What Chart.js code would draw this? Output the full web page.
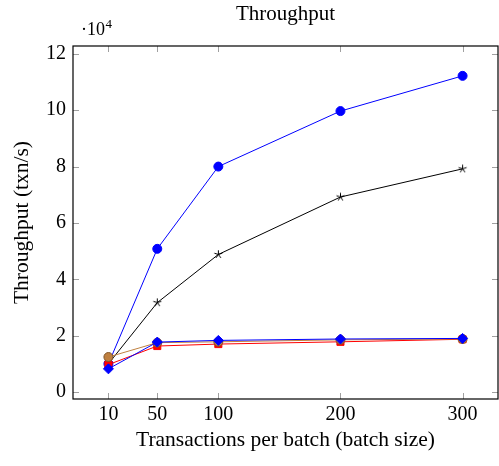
<!DOCTYPE html>
<html><head><meta charset="utf-8">
<script src="https://cdn.jsdelivr.net/npm/chart.js@4.4.0/dist/chart.umd.min.js"></script>
<style>html,body{margin:0;padding:0;background:#fff;overflow:hidden}canvas{display:block}</style>
</head><body><canvas id="c" width="499" height="466"></canvas>
<script>
const batchSizes = [10, 50, 100, 200, 300];
const xTicks = [10, 50, 100, 200, 300];
const yTicks = [0, 2, 4, 6, 8, 10, 12];
const seriesBlueCircle = [1.0, 5.08, 8.0, 9.97, 11.22];
const seriesBlackStar = [1.0, 3.17, 4.88, 6.92, 7.92];
const seriesBlueDiamond = [0.82, 1.77, 1.83, 1.88, 1.9];
const seriesRedSquare = [0.97, 1.63, 1.7, 1.78, 1.87];
const seriesBrownCircle = [1.24, 1.75, 1.78, 1.85, 1.88];
const titleText = 'Throughput';
const xTitle = 'Transactions per batch (batch size)';
const yTitle = 'Throughput (txn/s)';

const pts = a => a.map((v, i) => ({x: batchSizes[i], y: v}));
const serif = '"Liberation Serif", "DejaVu Serif", serif';

// 5-armed asterisk marker like pgfplots "star"
const starImg = (() => {
  const c = document.createElement('canvas');
  c.width = 11; c.height = 11;
  const g = c.getContext('2d');
  g.strokeStyle = '#000'; g.lineWidth = 1;
  g.beginPath();
  for (let k = 0; k < 5; k++) {
    const a = -Math.PI / 2 + k * 2 * Math.PI / 5;
    g.moveTo(5.5, 5.5); g.lineTo(5.5 + 4.2 * Math.cos(a), 5.5 + 4.2 * Math.sin(a));
  }
  g.stroke();
  return c;
})();

const inward = {
  id: 'inward',
  afterDraw(chart) {
    const {ctx, chartArea: a, scales: {x, y}} = chart;
    ctx.save();
    ctx.strokeStyle = '#a0a0a0';
    ctx.lineWidth = 1;
    const L = 6;
    ctx.beginPath();
    xTicks.forEach(t => {
      const px = Math.round(x.getPixelForValue(t)) + 0.5;
      ctx.moveTo(px, a.bottom); ctx.lineTo(px, a.bottom - L);
      ctx.moveTo(px, a.top); ctx.lineTo(px, a.top + L);
    });
    yTicks.forEach(t => {
      const py = Math.round(y.getPixelForValue(t)) + 0.5;
      ctx.moveTo(a.left, py); ctx.lineTo(a.left + L, py);
      ctx.moveTo(a.right, py); ctx.lineTo(a.right - L, py);
    });
    ctx.stroke();
    ctx.strokeStyle = '#000';
    ctx.lineWidth = 1.2;
    ctx.strokeRect(a.left, a.top, a.right - a.left, a.bottom - a.top);
    ctx.fillStyle = '#000';
    ctx.font = '21px ' + serif;
    ctx.textAlign = 'center';
    ctx.textBaseline = 'alphabetic';
    ctx.fillText(titleText, (a.left + a.right) / 2, 20);
    ctx.textAlign = 'left';
    ctx.font = '18px ' + serif;
    const base = '\u00b710';
    ctx.fillText(base, 81, 35);
    const w = ctx.measureText(base).width;
    ctx.font = '13px ' + serif;
    ctx.fillText('4', 81 + w + 0.5, 28);
    ctx.restore();
  }
};

new Chart(document.getElementById('c'), {
  type: 'line',
  data: {
    datasets: [
      {data: pts(seriesBlueCircle), borderColor: '#0000ff', backgroundColor: '#0000ff', pointStyle: 'circle', pointRadius: 4.5, pointBorderWidth: 1, borderWidth: 1, order: 5},
      {data: pts(seriesBlackStar), borderColor: '#000', backgroundColor: '#000', pointStyle: starImg, pointRadius: 4, borderWidth: 1, order: 4},
      {data: pts(seriesRedSquare), borderColor: '#ff0000', backgroundColor: '#ff0000', pointStyle: 'rect', pointRadius: 5, pointBorderWidth: 1, borderWidth: 1, order: 3},
      {data: pts(seriesBrownCircle), borderColor: '#bf8040', backgroundColor: '#bf8040', pointBorderColor: '#80552a', pointStyle: 'circle', pointRadius: 4.5, pointBorderWidth: 1, borderWidth: 1, order: 2},
      {data: pts(seriesBlueDiamond), borderColor: '#0000ff', backgroundColor: '#0000ff', pointStyle: 'rectRot', pointRadius: 5, pointBorderWidth: 1, borderWidth: 1, order: 1}
    ]
  },
  options: {
    responsive: false, animation: false, devicePixelRatio: 1,
    layout: {autoPadding: false, padding: {top: 46, right: 1, left: 0, bottom: 0}},
    plugins: {legend: {display: false}, tooltip: {enabled: false}},
    elements: {line: {tension: 0}},
    scales: {
      x: {
        type: 'linear', min: -19, max: 329,
        afterBuildTicks: s => { s.ticks = xTicks.map(v => ({value: v})); },
        grid: {display: false, drawTicks: false},
        border: {display: false},
        ticks: {color: '#000', font: {family: serif, size: 20}, padding: 4},
        title: {display: true, text: xTitle, color: '#000', font: {family: serif, size: 21.5}, padding: {top: 0, bottom: 13}},
        afterFit: s => { s.height = 67; s.paddingLeft = 0; s.paddingRight = 0; }
      },
      y: {
        min: -0.25, max: 12.28,
        afterBuildTicks: s => { s.ticks = yTicks.map(v => ({value: v})); },
        grid: {display: false, drawTicks: false},
        border: {display: false},
        ticks: {color: '#000', font: {family: serif, size: 20}, padding: 7},
        title: {display: true, text: yTitle, color: '#000', font: {family: serif, size: 21.5}, padding: {top: 9, bottom: 6}},
        afterFit: s => { s.width = 73; s.paddingTop = 0; s.paddingBottom = 0; }
      }
    }
  },
  plugins: [inward]
});
</script>
</body></html>
